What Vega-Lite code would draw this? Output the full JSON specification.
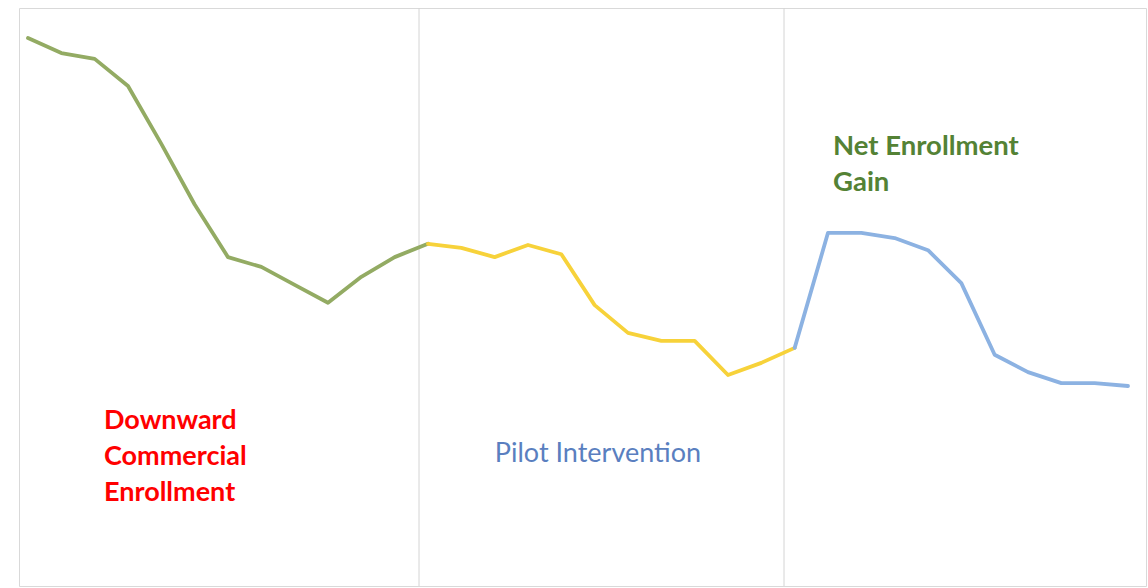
{
  "$schema": "https://vega.github.io/schema/vega-lite/v6.json",
  "width": 1127,
  "height": 578,
  "autosize": {"type": "none"},
  "padding": {"left": 19, "top": 8, "right": 2, "bottom": 2},
  "background": "white",
  "config": {"view": {"stroke": "#d9d9d9", "strokeWidth": 1}},
  "datasets": {
    "series": [
      {"k": 0, "value": 94.8, "phase": "Decline"},
      {"k": 1, "value": 92.2, "phase": "Decline"},
      {"k": 2, "value": 91.2, "phase": "Decline"},
      {"k": 3, "value": 86.5, "phase": "Decline"},
      {"k": 4, "value": 76.5, "phase": "Decline"},
      {"k": 5, "value": 66.0, "phase": "Decline"},
      {"k": 6, "value": 56.9, "phase": "Decline"},
      {"k": 7, "value": 55.2, "phase": "Decline"},
      {"k": 8, "value": 52.1, "phase": "Decline"},
      {"k": 9, "value": 49.0, "phase": "Decline"},
      {"k": 10, "value": 53.5, "phase": "Decline"},
      {"k": 11, "value": 56.9, "phase": "Decline"},
      {"k": 12, "value": 59.2, "phase": "Decline"},
      {"k": 12, "value": 59.2, "phase": "Pilot"},
      {"k": 13, "value": 58.5, "phase": "Pilot"},
      {"k": 14, "value": 56.9, "phase": "Pilot"},
      {"k": 15, "value": 59.0, "phase": "Pilot"},
      {"k": 16, "value": 57.4, "phase": "Pilot"},
      {"k": 17, "value": 48.6, "phase": "Pilot"},
      {"k": 18, "value": 43.8, "phase": "Pilot"},
      {"k": 19, "value": 42.4, "phase": "Pilot"},
      {"k": 20, "value": 42.4, "phase": "Pilot"},
      {"k": 21, "value": 36.5, "phase": "Pilot"},
      {"k": 22, "value": 38.6, "phase": "Pilot"},
      {"k": 23, "value": 41.2, "phase": "Pilot"},
      {"k": 23, "value": 41.2, "phase": "Gain"},
      {"k": 24, "value": 61.1, "phase": "Gain"},
      {"k": 25, "value": 61.1, "phase": "Gain"},
      {"k": 26, "value": 60.2, "phase": "Gain"},
      {"k": 27, "value": 58.1, "phase": "Gain"},
      {"k": 28, "value": 52.4, "phase": "Gain"},
      {"k": 29, "value": 40.0, "phase": "Gain"},
      {"k": 30, "value": 37.0, "phase": "Gain"},
      {"k": 31, "value": 35.1, "phase": "Gain"},
      {"k": 32, "value": 35.1, "phase": "Gain"},
      {"k": 33, "value": 34.6, "phase": "Gain"}
    ],
    "dividers": [
      {"k": 11.73},
      {"k": 22.68}
    ],
    "labels": [
      {"k": 2.28, "value": 28.5, "group": "decline", "label": "Downward\nCommercial\nEnrollment"},
      {"k": 17.1, "value": 22.8, "group": "pilot", "label": "Pilot Intervention"},
      {"k": 24.15, "value": 76.0, "group": "gain", "label": "Net Enrollment\nGain"}
    ]
  },
  "layer": [
    {
      "data": {"name": "dividers"},
      "mark": {"type": "rule", "color": "#d4d4d4", "strokeWidth": 1},
      "encoding": {
        "x": {"field": "k", "type": "quantitative", "scale": {"domain": [-0.27, 33.54], "nice": false, "zero": false}, "axis": null}
      }
    },
    {
      "data": {"name": "series"},
      "mark": {"type": "line", "strokeWidth": 3.8, "strokeJoin": "round", "strokeCap": "round"},
      "encoding": {
        "x": {"field": "k", "type": "quantitative", "scale": {"domain": [-0.27, 33.54], "nice": false, "zero": false}, "axis": null},
        "y": {"field": "value", "type": "quantitative", "scale": {"domain": [0, 100], "nice": false}, "axis": null},
        "color": {"field": "phase", "type": "nominal", "scale": {"domain": ["Decline", "Pilot", "Gain"], "range": ["#93ab63", "#f7d23a", "#8cb2e2"]}, "legend": null},
        "detail": {"field": "phase"}
      }
    },
    {
      "data": {"name": "labels"},
      "transform": [{"filter": "datum.group === 'decline'"}],
      "mark": {"type": "text", "align": "left", "baseline": "middle", "font": "Lato", "fontWeight": "bold", "fontSize": 27, "lineHeight": 36, "lineBreak": "\n", "color": "#ff0000"},
      "encoding": {
        "x": {"field": "k", "type": "quantitative", "scale": {"domain": [-0.27, 33.54], "nice": false, "zero": false}, "axis": null},
        "y": {"field": "value", "type": "quantitative", "scale": {"domain": [0, 100], "nice": false}, "axis": null},
        "text": {"field": "label"}
      }
    },
    {
      "data": {"name": "labels"},
      "transform": [{"filter": "datum.group === 'pilot'"}],
      "mark": {"type": "text", "align": "center", "baseline": "middle", "font": "Lato", "fontSize": 27, "color": "#5a7fc0"},
      "encoding": {
        "x": {"field": "k", "type": "quantitative", "scale": {"domain": [-0.27, 33.54], "nice": false, "zero": false}, "axis": null},
        "y": {"field": "value", "type": "quantitative", "scale": {"domain": [0, 100], "nice": false}, "axis": null},
        "text": {"field": "label"}
      }
    },
    {
      "data": {"name": "labels"},
      "transform": [{"filter": "datum.group === 'gain'"}],
      "mark": {"type": "text", "align": "left", "baseline": "middle", "font": "Lato", "fontWeight": "bold", "fontSize": 27.5, "lineHeight": 36, "lineBreak": "\n", "color": "#548235"},
      "encoding": {
        "x": {"field": "k", "type": "quantitative", "scale": {"domain": [-0.27, 33.54], "nice": false, "zero": false}, "axis": null},
        "y": {"field": "value", "type": "quantitative", "scale": {"domain": [0, 100], "nice": false}, "axis": null},
        "text": {"field": "label"}
      }
    }
  ]
}
